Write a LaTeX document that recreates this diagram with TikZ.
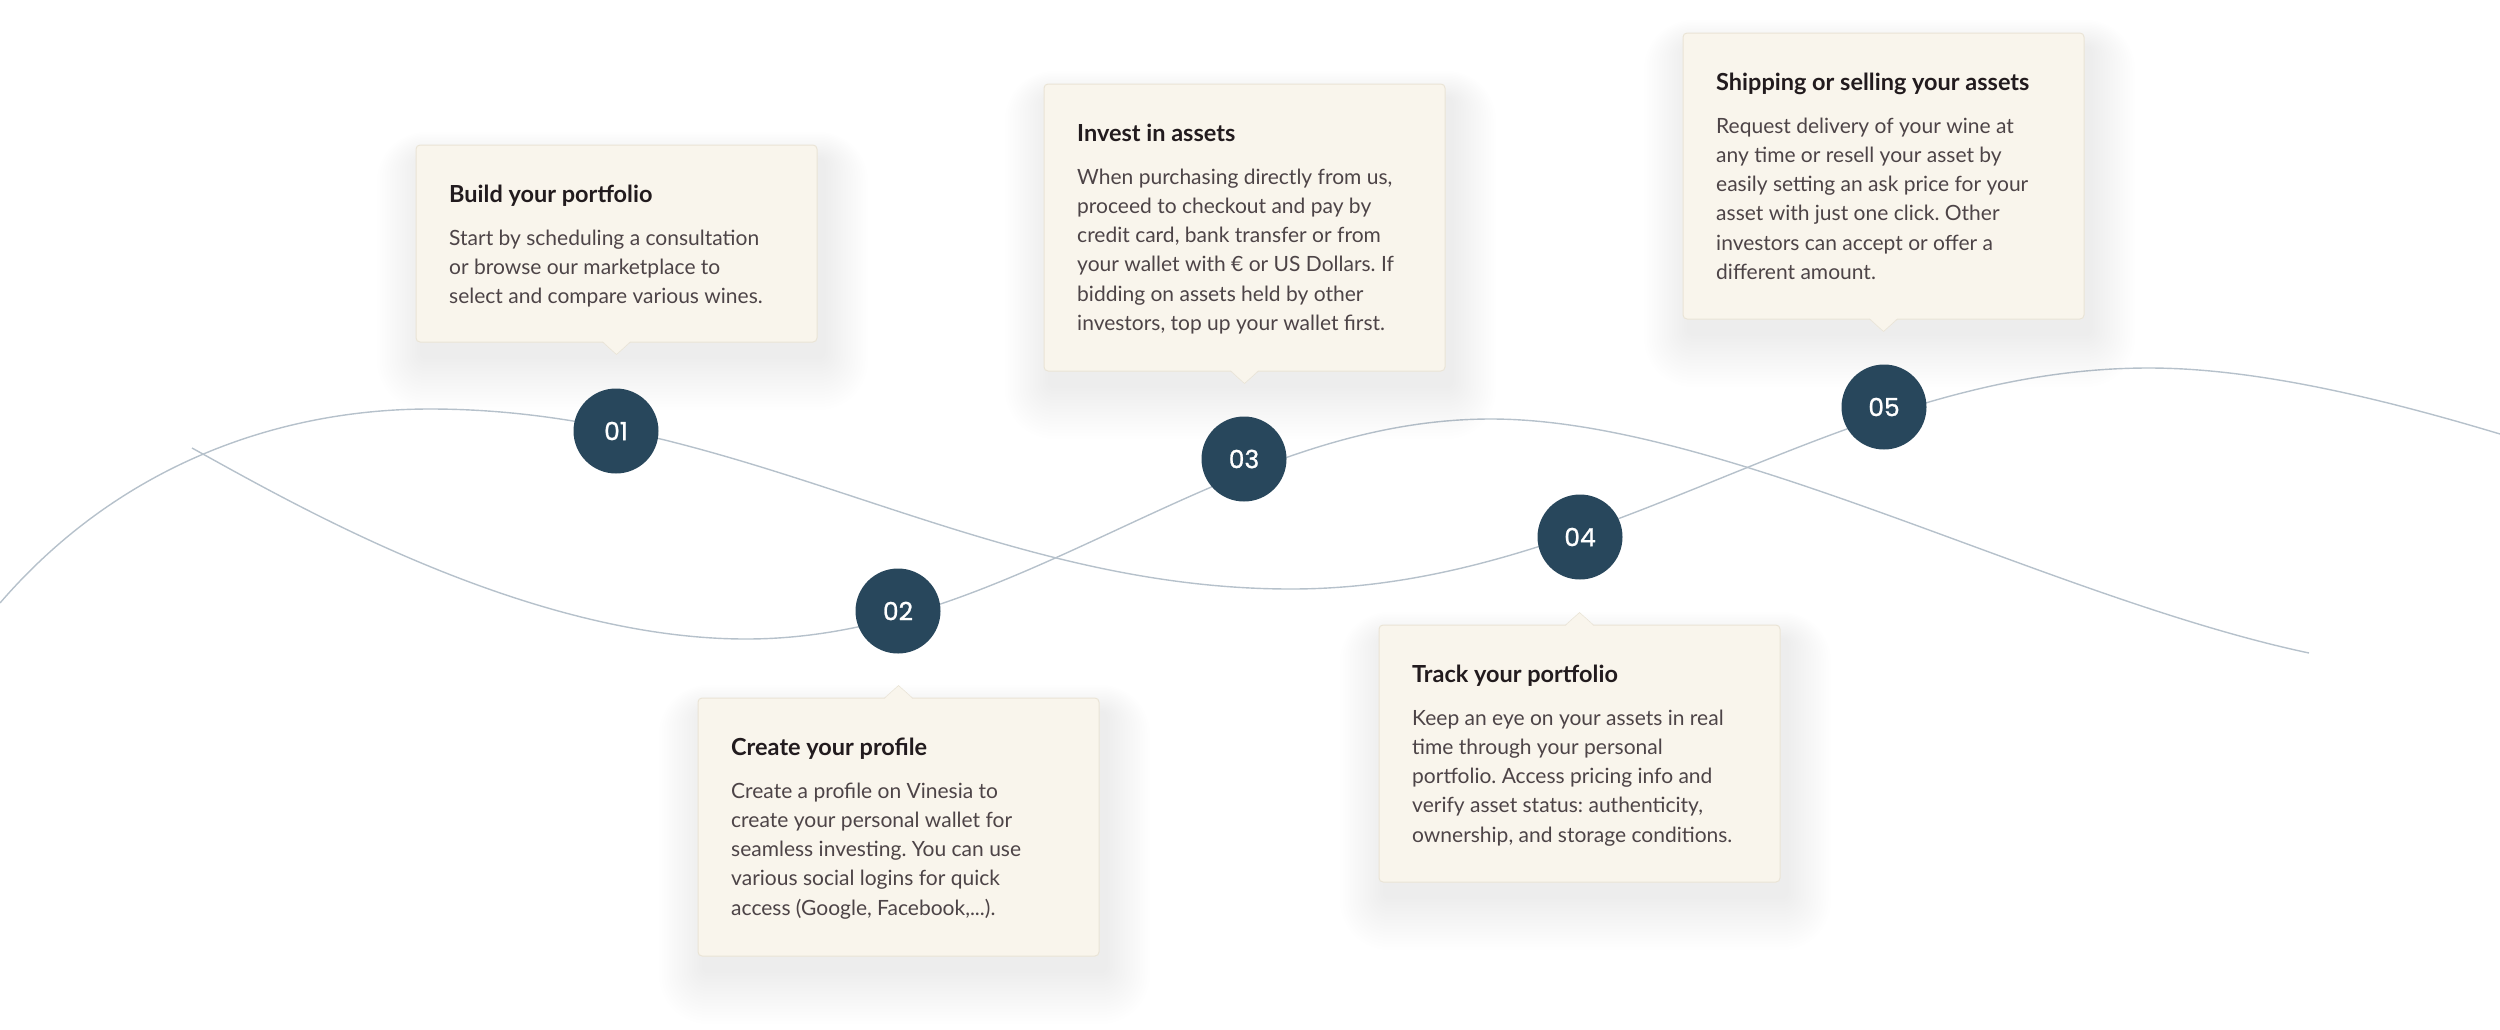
\documentclass[tikz,border=0pt]{standalone}
\usepackage{fontspec}
\setmainfont{Lato}
\newfontfamily\numfont{Poppins}[FakeBold=1]
\usetikzlibrary{calc}
\definecolor{stepnavy}{HTML}{28475C}
\definecolor{cardfill}{HTML}{F9F5EC}
\definecolor{cardline}{HTML}{EAE4D6}
\definecolor{wavegray}{HTML}{B6C1CB}
\definecolor{titleink}{HTML}{221B1E}
\definecolor{bodyink}{HTML}{4D4447}
\frenchspacing
\tikzset{
  waveline/.style={
    draw=wavegray,
    line width=1.4pt
  },
  stepdot/.style={
    shape = circle,
    fill = stepnavy,
    minimum size = 85pt,
    inner sep = 0,
    text = white,
    font = \numfont\fontsize{25}{30}\selectfont
  },
  cardbox/.style={
    fill = cardfill,
    draw = cardline,
    line width = 1pt,
    rounded corners = 4pt
  },
  cardtitle/.style={
    anchor = base west,
    inner sep = 0,
    text = titleink,
    font = \bfseries\fontsize{23.5}{28}\selectfont
  },
  cardtext/.style={
    anchor = base west,
    inner sep = 0,
    text = bodyink,
    font = \fontsize{21}{29}\selectfont
  }
}
% #1 name, #2 left, #3 top, #4 height, #5 pointer (1 below, -1 above), #6 title, #7 lines
\newcommand{\stepcard}[7]{%
  \foreach \k [evaluate=\k as \rc using 4+2.5*\k] in {1,...,18}
    \fill[black, opacity=0.004, rounded corners=\rc pt]
      (#2-2.5*\k+6, #3-1.5*\k+14) rectangle (#2+401+2.5*\k+6, #3+#4+3*\k+14);
  \pgfmathsetmacro\pby{#5>0 ? #3+#4 : #3}
  \pgfmathsetmacro\pcx{#2+200.5}
  \draw[cardbox] (#2,#3) rectangle ++(401,#4);
  \fill[cardfill] (\pcx-14,\pby-#5) -- (\pcx,\pby+12.5*#5) -- (\pcx+14,\pby-#5) -- cycle;
  \draw[cardline, line width=0.6pt] (\pcx-14,\pby) -- (\pcx,\pby+12.5*#5) -- (\pcx+14,\pby);
  \node[cardtitle] (#1-title) at (#2+33, #3+57) {#6};
  \foreach \l [count=\i] in {#7}
    \node[cardtext] (#1-l\i) at (#2+33, #3+100+29.3*\i-29.3) {\l};
}
\begin{document}
\begin{tikzpicture}[x=1pt, y=-1pt]
        \useasboundingbox (0,0) rectangle (2500,1029);
        % the two waves
        \draw[waveline] (0,603) .. controls (120,464) and (280,409) .. (430,409)
          .. controls (744,409) and (977,589) .. (1291,589)
          .. controls (1603,589) and (1837,368) .. (2149,368)
          .. controls (2260,368) and (2390,401) .. (2500,434);
        \draw[waveline] (192,448) .. controls (292,503) and (526,639) .. (746,639)
          .. controls (1017,639) and (1220,419) .. (1491,419)
          .. controls (1721,419) and (2049,598) .. (2309,653);
        % cards
        \stepcard{build}{416}{145}{197}{1}{Build your portfolio}
          {{Start by scheduling a consultation}, {or browse our marketplace to},
           {select and compare various wines.}}
        \stepcard{profile}{698}{698}{258}{-1}{Create your profile}
          {{Create a profile on Vinesia to}, {create your personal wallet for},
           {seamless investing. You can use}, {various social logins for quick},
           {access (Google, Facebook,.{}.{}.).}}
        \stepcard{invest}{1044}{84}{287}{1}{Invest in assets}
          {{When purchasing directly from us,}, {proceed to checkout and pay by},
           {credit card, bank transfer or from}, {your wallet with € or US Dollars. If},
           {bidding on assets held by other}, {investors, top up your wallet first.}}
        \stepcard{track}{1379}{625}{257}{-1}{Track your portfolio}
          {{Keep an eye on your assets in real}, {time through your personal},
           {portfolio. Access pricing info and}, {verify asset status: authenticity,},
           {ownership, and storage conditions.}}
        \stepcard{ship}{1683}{33}{286}{1}{Shipping or selling your assets}
          {{Request delivery of your wine at}, {any time or resell your asset by},
           {easily setting an ask price for your}, {asset with just one click. Other},
           {investors can accept or offer a}, {different amount.}}
        % step markers
        \node[stepdot] (s01) at (616,431) {01};
        \node[stepdot] (s02) at (898,611) {02};
        \node[stepdot] (s03) at (1244,459) {03};
        \node[stepdot] (s04) at (1580,537) {04};
        \node[stepdot] (s05) at (1884,407) {05};
\end{tikzpicture}
\end{document}
